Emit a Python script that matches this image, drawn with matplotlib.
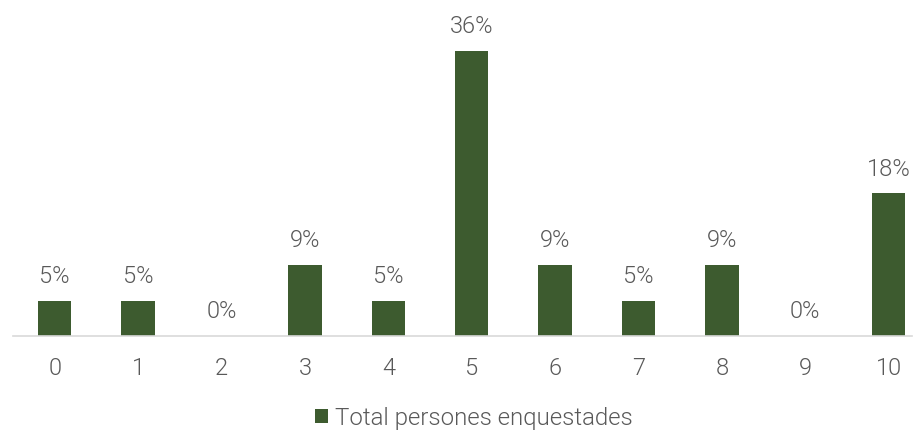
import matplotlib
matplotlib.use("Agg")
import matplotlib.pyplot as plt
from matplotlib.patches import Patch

categories = ["0", "1", "2", "3", "4", "5", "6", "7", "8", "9", "10"]
values = [4.5, 4.5, 0.0, 9.1, 4.5, 36.4, 9.1, 4.5, 9.1, 0.0, 18.2]
labels = ["5%", "5%", "0%", "9%", "5%", "36%", "9%", "5%", "9%", "0%", "18%"]
series_name = "Total persones enquestades"

plt.rcParams['font.family'] = ['Roboto', 'DejaVu Sans']

W, H = 916, 430
fig = plt.figure(figsize=(W / 100, H / 100), dpi=100)
left_px, right_px, base_px, top_px = 13, 912, 336, 10
ax = fig.add_axes([left_px / W, (H - base_px) / H, (right_px - left_px) / W, (base_px - top_px) / H])

bar_color = "#3D5B2F"
text_color = "#595959"
FS = 17
WT = 300
x = list(range(len(categories)))
ax.bar(x, values, width=0.4, color=bar_color, zorder=2)

spacing = 83.4
ax.set_xlim(-0.5, -0.5 + (right_px - left_px) / spacing)
ax.set_ylim(0, (base_px - top_px) / 7.83)

for xi, v, lab in zip(x, values, labels):
    ax.annotate(lab, (xi, v), xytext=(0, 9), textcoords="offset points",
                ha="center", va="bottom", fontsize=FS, color=text_color, fontweight=WT)

for s in ["top", "right", "left"]:
    ax.spines[s].set_visible(False)
ax.spines["bottom"].set_color("#D9D9D9")
ax.spines["bottom"].set_linewidth(1.2)
ax.set_yticks([])
ax.set_xticks(x)
ax.set_xticklabels(categories)
ax.tick_params(axis="x", length=0, pad=15, labelsize=FS, labelcolor=text_color)
for t in ax.get_xticklabels():
    t.set_fontweight(WT)

handle = Patch(facecolor=bar_color, edgecolor="none")
fig.legend([handle], [series_name], loc="center", bbox_to_anchor=(474 / W, 1 - 418 / H),
           frameon=False, labelcolor=text_color, handlelength=0.55, handleheight=0.55,
           handletextpad=0.3, prop={'weight': WT, 'size': 17.3})

fig.savefig("out.png", dpi=100)
